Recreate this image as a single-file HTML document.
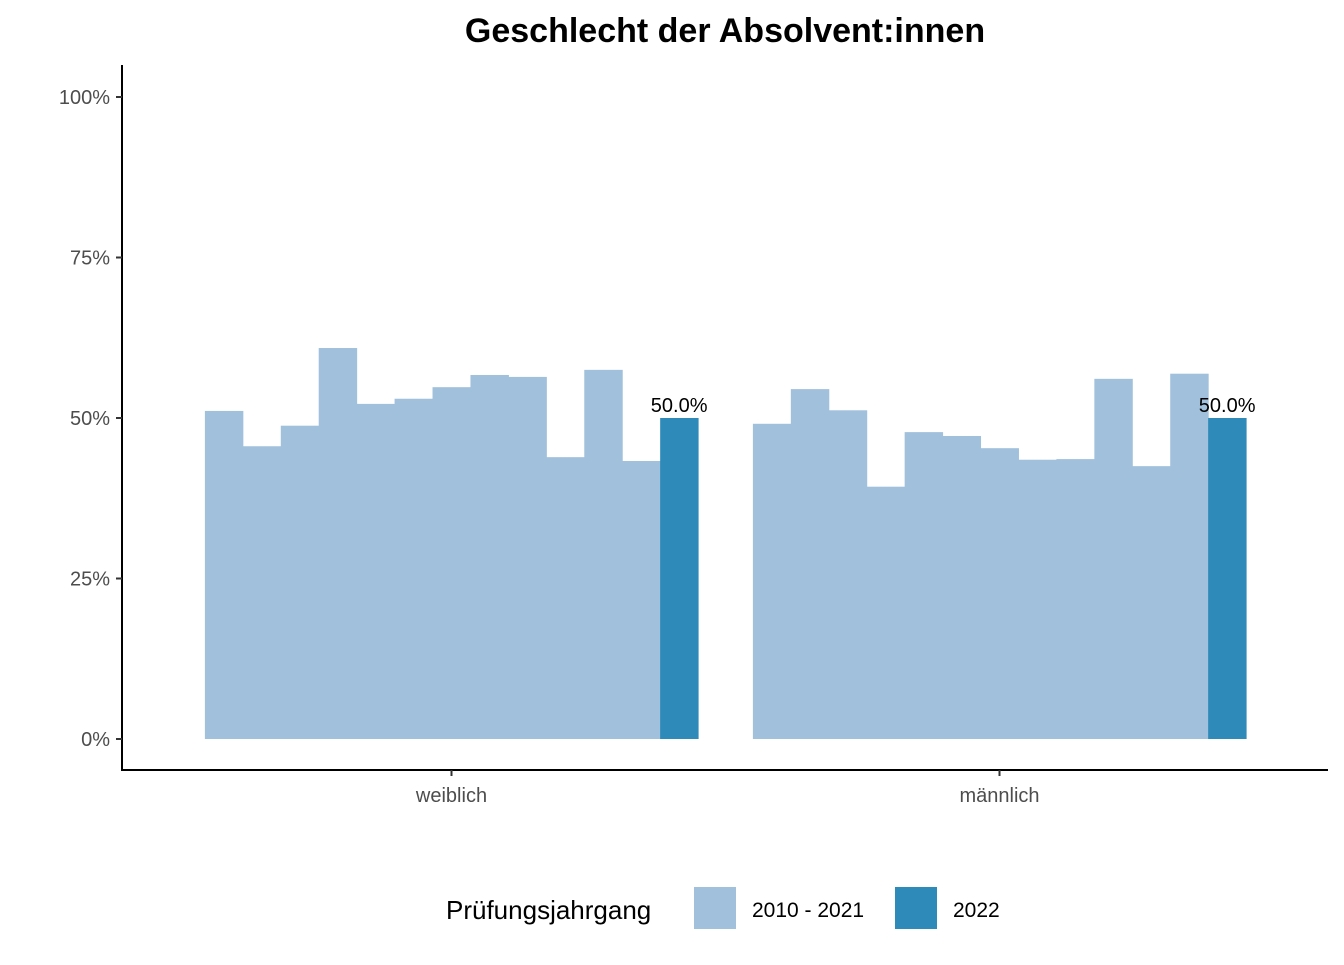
<!DOCTYPE html>
<html><head><meta charset="utf-8"><style>
body{margin:0;background:#fff;font-family:"Liberation Sans",Arial,sans-serif}
</style></head><body>
<svg id="chart" width="1344" height="960" xmlns="http://www.w3.org/2000/svg" font-family="Liberation Sans, Arial, sans-serif">
<text x="725" y="42" text-anchor="middle" font-size="34" font-weight="bold">Geschlecht der Absolvent:innen</text>
<g id="bars"></g>
<g id="axes"></g>
<g>
<text x="446" y="919" font-size="26">Prüfungsjahrgang</text>
<rect x="694" y="887" width="42" height="42" fill="#a0c0dc"/>
<text x="752" y="917" font-size="21">2010 - 2021</text>
<rect x="895" y="887" width="42" height="42" fill="#2e8ab8"/>
<text x="953" y="917" font-size="21">2022</text>
</g>
</svg>
<script>
const categories = ["weiblich","männlich"];
const weiblichValues = [51.1,45.6,48.8,60.9,52.2,53.0,54.8,56.7,56.4,43.9,57.5,43.3,50.0];
const maennlichValues = [49.1,54.5,51.2,39.3,47.8,47.2,45.3,43.5,43.6,56.1,42.5,56.9,50.0];
const yTicks = [0,25,50,75,100];
const yTickLabels = ["0%","25%","50%","75%","100%"];
const highlightLabels = ["50.0%","50.0%"];

const NS="http://www.w3.org/2000/svg";
const y0=739, yPer=6.42;
function yScale(v){return y0 - v*yPer;}
const left=122, right=1328, bandStart=178, band=548;
function xCenter(i){return bandStart + band*i + band/2 - 0.5;}
function mk(tag,attrs,parent){const e=document.createElementNS(NS,tag);for(const k in attrs)e.setAttribute(k,attrs[k]);parent.appendChild(e);return e;}
const barsG=document.getElementById('bars'), axG=document.getElementById('axes');
[weiblichValues,maennlichValues].forEach((vals,ci)=>{
  const w=band*0.9, n=vals.length, bw=w/n, x0=xCenter(ci)-w/2;
  vals.forEach((v,j)=>{
    const r=mk('rect',{x:x0+j*bw,y:yScale(v),width:bw+0.5,height:yScale(0)-yScale(v),fill:j===n-1?'#2e8ab8':'#a0c0dc'},barsG);
    
    
    if(j===n-1){
      const t=mk('text',{x:x0+j*bw+bw/2,y:yScale(v)-6,'text-anchor':'middle','font-size':20},barsG);
      t.textContent=highlightLabels[ci];
      
      
    }
  });
});
const ya=mk('line',{x1:left,y1:65,x2:left,y2:771,stroke:'#000','stroke-width':2},axG);


const xa=mk('line',{x1:left-1,y1:770,x2:right,y2:770,stroke:'#000','stroke-width':2},axG);


yTicks.forEach((v,i)=>{
  const y=yScale(v);
  mk('line',{x1:left-6,y1:y,x2:left,y2:y,stroke:'#333','stroke-width':2},axG);
  const t=mk('text',{x:left-12,y:y+7,'text-anchor':'end','font-size':20,fill:'#4d4d4d'},axG);
  t.textContent=yTickLabels[i];
  
  
});
categories.forEach((c,i)=>{
  const x=xCenter(i);
  mk('line',{x1:x,y1:770,x2:x,y2:776,stroke:'#333','stroke-width':2},axG);
  const t=mk('text',{x:x,y:802,'text-anchor':'middle','font-size':20,fill:'#4d4d4d'},axG);
  t.textContent=c;
  
  
});
</script>
</body></html>
